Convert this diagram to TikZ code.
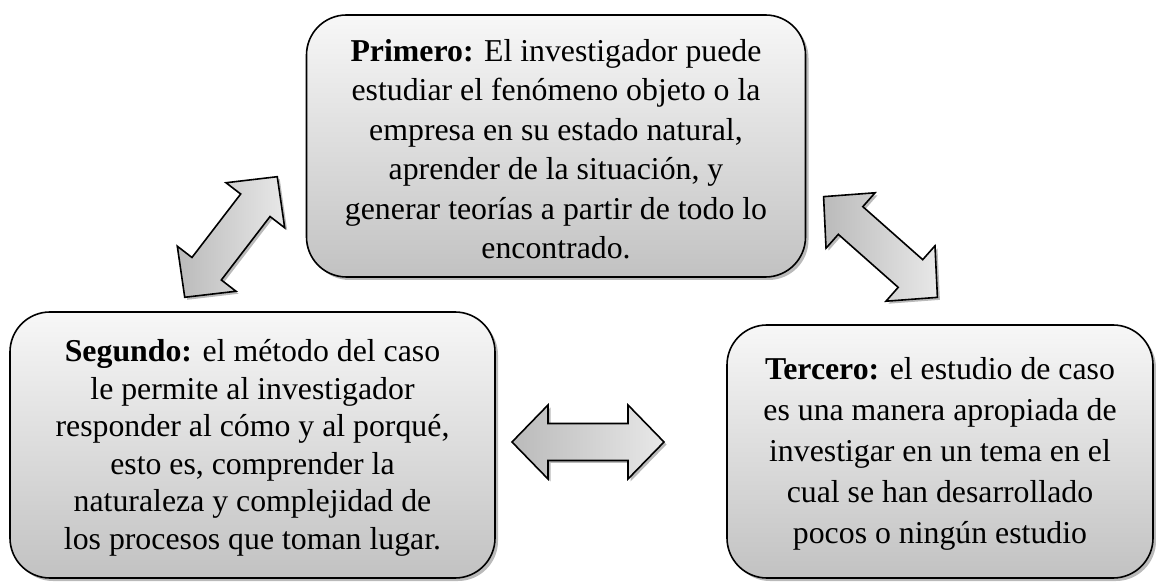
\documentclass[tikz,border=0pt]{standalone}
\usepackage{fontspec}
\setmainfont{Liberation Serif}
\usetikzlibrary{shadows}
\begin{document}
\begin{tikzpicture}[x=1pt,y=1pt,
  box/.style={draw=black, line width=1.6pt, rounded corners=40pt,
    top color=black!3, bottom color=black!24,
    drop shadow={shadow xshift=3pt, shadow yshift=-3pt, opacity=0.45, fill=black!60},
    align=center, inner sep=0pt},
  dblarrow/.style={draw=black, line width=1.6pt, line join=miter,
    left color=black!27, right color=black!9,
    drop shadow={shadow xshift=2.5pt, shadow yshift=-2.5pt, opacity=0.45, fill=black!60}},
  txt/.style={font=\fontsize{31.8}{#1}\selectfont, align=center}
]
\useasboundingbox (0,0) rectangle (1156,581);

\node[box, minimum width=499pt, minimum height=262pt] (top) at (556,435) {};
\node[txt=39.5] (toptext) at ([yshift=-3pt]top.center) {\textbf{Primero:} El investigador puede\\ estudiar el fenómeno objeto o la\\ empresa en su estado natural,\\ aprender de la situación, y\\ generar teorías a partir de todo lo\\ encontrado.};

\node[box, minimum width=485pt, minimum height=266pt] (left) at (252.5,136) {};
\node[txt=37.5] (lefttext) at ([yshift=-3pt]left.center) {\textbf{Segundo:} el método del caso\\ le permite al investigador\\ responder al cómo y al porqué,\\ esto es, comprender la\\ naturaleza y complejidad de\\ los procesos que toman lugar.};

\node[box, minimum width=426pt, minimum height=253pt] (right) at (940,129.5) {};
\node[txt=41] (righttext) at ([yshift=-2pt]right.center) {\textbf{Tercero:} el estudio de caso\\ es una manera apropiada de\\ investigar en un tema en el\\ cual se han desarrollado\\ pocos o ningún estudio};

\foreach \name/\cx/\cy/\ang in {harrow/588/139/0, larrow/231/344/52.5, rarrow/880.5/334/-41.5}{
  \path[dblarrow, shift={(\cx,\cy)}, rotate=\ang]
    (-76,0) -- (-40,37) -- (-40,18.5) -- (40,18.5) -- (40,37) -- (76,0)
    -- (40,-37) -- (40,-18.5) -- (-40,-18.5) -- (-40,-37) -- cycle;
  \coordinate (\name) at (\cx,\cy);
}
\end{tikzpicture}
\end{document}
